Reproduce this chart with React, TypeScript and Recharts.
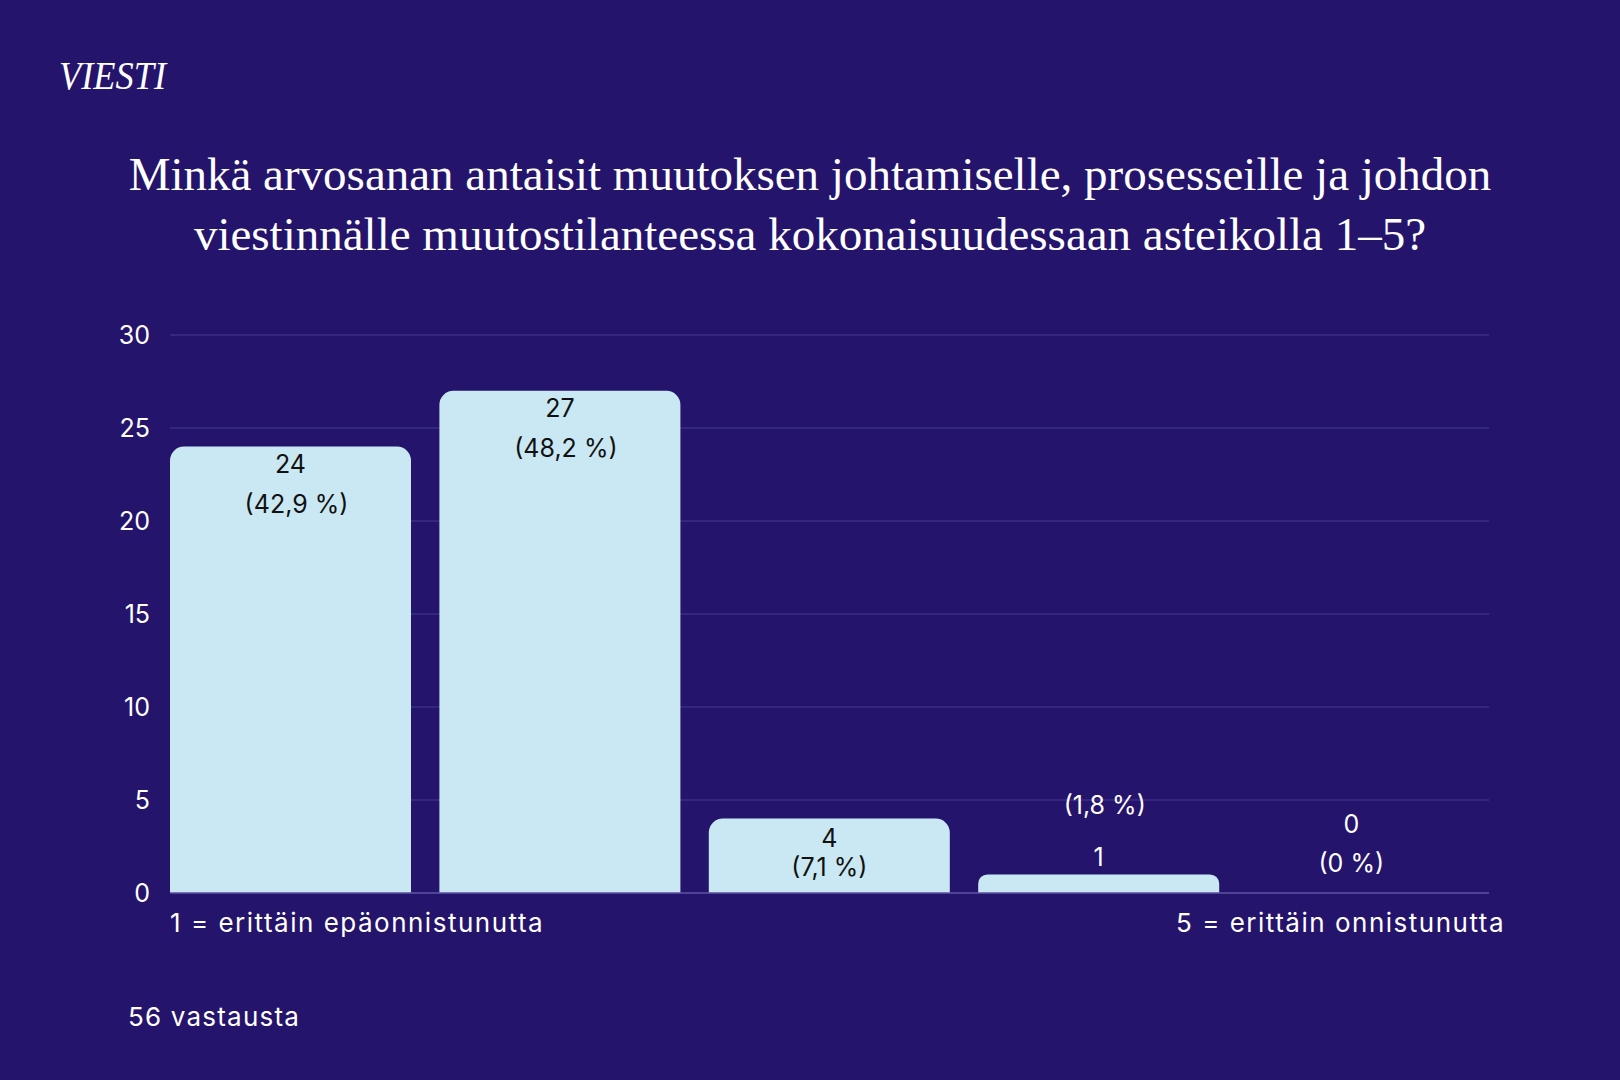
import React from 'react';
import { BarChart, Bar, XAxis, YAxis, CartesianGrid, LabelList } from 'recharts';

const grades = ['1 = erittäin epäonnistunutta', '2', '3', '4', '5 = erittäin onnistunutta'];
const counts = [24, 27, 4, 1, 0];
const percents = ['42,9 %', '48,2 %', '7,1 %', '1,8 %', '0 %'];
const yTicks = [0, 5, 10, 15, 20, 25, 30];

const titleLines = [
  'Minkä arvosanan antaisit muutoksen johtamiselle, prosesseille ja johdon',
  'viestinnälle muutostilanteessa kokonaisuudessaan asteikolla 1–5?',
];
const responses = '56 vastausta';

const data = grades.map((grade, i) => ({ grade, count: counts[i], pct: percents[i] }));

const BG = '#25146c';
const BAR = '#cae8f3';
const SANS = 'Inter, "Noto Sans", sans-serif';
const SERIF = '"Liberation Serif", "DejaVu Serif", serif';

// count + (percent) pair; inside tall bars, above short ones
const labelPair = (cx: number, top: number, index: number) => {
  const value = counts[index];
  let countY: number;
  let pctY: number;
  let pctDx = 6;
  let fill = '#111';
  if (value >= 20) {
    countY = top + 17;
    pctY = top + 57;
  } else if (value >= 3) {
    countY = top + 19;
    pctY = top + 48;
    pctDx = 0;
  } else if (value > 0) {
    countY = top - 17;
    pctY = top - 69;
    fill = '#fff';
  } else {
    countY = top - 69;
    pctY = top - 30;
    pctDx = 0;
    fill = '#fff';
  }
  return (
    <g fontFamily={SANS} fontSize={25} fill={fill} textAnchor="middle">
      <text x={cx} y={countY} dy={9}>{value}</text>
      <text x={cx + pctDx} y={pctY} dy={9}>({percents[index]})</text>
    </g>
  );
};

const BarLabel = (props: any) => {
  const { x, y, width, index } = props;
  if (counts[index] === 0) return null;
  return labelPair(x + width / 2, y, index);
};

const GradeTick = (props: any) => {
  const { x, y, payload, index } = props;
  const half = payload?.offset ?? 134;
  // empty bars get no LabelList entry, so their labels are drawn here at the baseline
  const zeroLabel = counts[index] === 0 ? labelPair(x - 17, y, index) : null;
  let text = null;
  if (index === 0) {
    text = (
      <text x={x - half + 14} y={y} dy={39} fill="#fff" fontSize={26} letterSpacing={1.5} fontFamily={SANS} textAnchor="start">
        {payload.value}
      </text>
    );
  } else if (index === grades.length - 1) {
    text = (
      <text x={x + half + 2} y={y} dy={39} fill="#fff" fontSize={26} letterSpacing={1.5} fontFamily={SANS} textAnchor="end">
        {payload.value}
      </text>
    );
  }
  return (
    <g>
      {zeroLabel}
      {text}
    </g>
  );
};

export default function App() {
  return (
    <div style={{ position: 'relative', width: 1620, height: 1080, background: BG, overflow: 'hidden' }}>
      <style>{'body{margin:0}'}</style>
      <svg width={1620} height={1080} style={{ position: 'absolute', left: 0, top: 0 }}>
        <text x={59} y={89} fill="#fff" fontFamily={SERIF} fontStyle="italic" fontSize={40} textLength={107} lengthAdjust="spacingAndGlyphs">
          VIESTI
        </text>
        {titleLines.map((line, i) => (
          <text key={i} x={810} y={190 + i * 60} fill="#fff" fontFamily={SERIF} fontSize={47} textAnchor="middle">
            {line}
          </text>
        ))}
        <text x={128} y={1026} fill="#fff" fontFamily={SANS} fontSize={26} letterSpacing={1.2}>
          {responses}
        </text>
      </svg>
      <div style={{ position: 'absolute', left: 0, top: 0 }}>
        <BarChart
          width={1620}
          height={1080}
          data={data}
          margin={{ top: 335, right: 131, bottom: 127, left: 110 }}
          barCategoryGap={14}
        >
          <CartesianGrid vertical={false} stroke="#3b2e84" strokeWidth={1.5} />
          <XAxis
            dataKey="grade"
            height={60}
            padding={{ left: -14, right: -14 }}
            axisLine={{ stroke: '#5a4e9e', strokeWidth: 1.5 }}
            tickLine={false}
            tickSize={0}
            tickMargin={0}
            interval={0}
            tick={<GradeTick />}
          />
          <YAxis
            width={60}
            domain={[0, 30]}
            ticks={yTicks}
            axisLine={false}
            tickLine={false}
            tickSize={0}
            tickMargin={20}
            tick={{ fill: '#fff', fontSize: 25, fontFamily: SANS }}
          />
          <Bar dataKey="count" fill={BAR} radius={[14, 14, 0, 0]} isAnimationActive={false}>
            <LabelList dataKey="count" content={<BarLabel />} />
          </Bar>
        </BarChart>
      </div>
    </div>
  );
}
